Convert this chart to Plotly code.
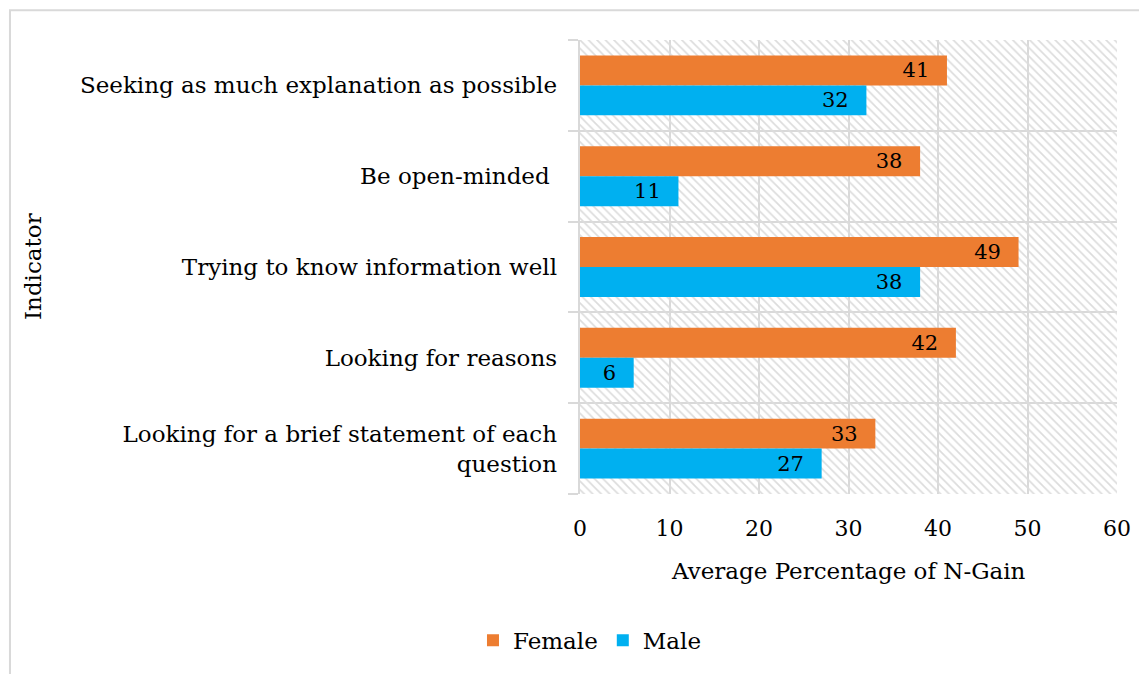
import plotly.graph_objects as go

categories = [
    "Seeking as much explanation as possible",
    "Be open-minded ",
    "Trying to know information well",
    "Looking for reasons",
    "Looking for a brief statement of each<br>question",
]
female = [41, 38, 49, 42, 33]
male = [32, 11, 38, 6, 27]
x_ticks = [0, 10, 20, 30, 40, 50, 60]

FONT = "DejaVu Serif"
GRID = "#d9d9d9"
FS = 23

fig = go.Figure()

# hatched plot-area background (decoration)
fig.add_trace(go.Bar(
    x=[60], y=[2], width=[5], orientation="h", xaxis="x", yaxis="y",
    marker=dict(color="rgba(0,0,0,0)", line=dict(width=0),
                pattern=dict(shape="\\", fgcolor="#dcdcdc", size=6, solidity=0.28, fillmode="replace")),
    showlegend=False, hoverinfo="skip",
))

for name, vals, col in [("Female", female, "#ED7D31"), ("Male", male, "#00B0F0")]:
    fig.add_trace(go.Bar(
        name=name, y=categories, x=vals, orientation="h", xaxis="x2", yaxis="y2",
        marker=dict(color=col, line=dict(width=0)),
        text=vals, texttemplate="%{x}\u2002\u2009", textposition="inside", insidetextanchor="end",
        textfont=dict(family=FONT, size=21, color="black"), constraintext="none",
    ))

fig.update_layout(
    width=1139, height=666,
    margin=dict(l=572, r=30, t=32, b=178),
    paper_bgcolor="white", plot_bgcolor="white",
    font=dict(family=FONT, size=FS, color="black"),
    barmode="group", bargap=0.34, bargroupgap=0,
    xaxis=dict(range=[0, 60], tickvals=x_ticks, showticklabels=False, showgrid=True,
               gridcolor=GRID, gridwidth=2, zeroline=False, showline=False, ticks=""),
    yaxis=dict(range=[-0.5, 4.5], tick0=-0.5, dtick=1, showticklabels=False, showgrid=True,
               gridcolor=GRID, gridwidth=2, zeroline=False, showline=True, linecolor=GRID,
               linewidth=2, ticks="outside", ticklen=10, tickcolor=GRID, tickwidth=2),
    xaxis2=dict(overlaying="x", range=[0, 60], tickvals=x_ticks, showgrid=False,
                zeroline=False, showline=False, side="bottom", anchor="y2",
                tickfont=dict(family=FONT, size=22), ticklabelstandoff=19),
    yaxis2=dict(overlaying="y", type="category", categoryarray=categories,
                autorange="reversed", showgrid=False, zeroline=False, showline=False,
                tickfont=dict(family=FONT, size=FS), ticklabelstandoff=22, side="left", anchor="x2"),
    legend=dict(orientation="h", x=0.0186, xanchor="center", y=-0.322, yanchor="middle",
                font=dict(family=FONT, size=FS), itemwidth=30, traceorder="normal"),
    showlegend=True,
    annotations=[
        dict(text="Average Percentage of N-Gain", xref="paper", yref="paper", x=0.5, y=-0.169,
             xanchor="center", yanchor="middle", showarrow=False, font=dict(family=FONT, size=FS)),
        dict(text="Indicator", xref="paper", yref="paper", x=-1.0186, y=0.5, textangle=-90,
             xanchor="center", yanchor="middle", showarrow=False, font=dict(family=FONT, size=FS)),
    ],
    shapes=[
        dict(type="rect", xref="paper", yref="paper", x0=-1.0615, y0=-0.45, x1=1.1, y1=1.0658,
             line=dict(color=GRID, width=2), fillcolor="rgba(0,0,0,0)", layer="below"),
    ],
)

fig.write_html("out.html")
